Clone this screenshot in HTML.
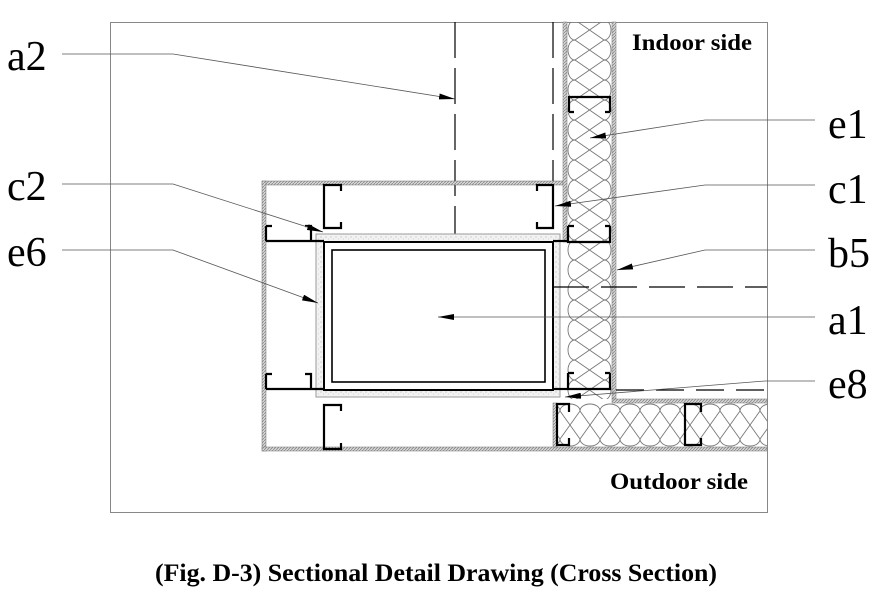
<!DOCTYPE html>
<html><head><meta charset="utf-8"><style>
html,body{margin:0;padding:0;background:#fff;}
svg{display:block;}
</style></head><body>
<svg width="878" height="611" viewBox="0 0 878 611" xmlns="http://www.w3.org/2000/svg" font-family="Liberation Serif, serif">
<defs>
<pattern id="hat" width="3" height="3" patternUnits="userSpaceOnUse"><rect width="3" height="3" fill="#d8d8d8"/><path d="M0,3 L3,0" stroke="#888" stroke-width="0.8"/></pattern>
<pattern id="dot" width="5" height="5" patternUnits="userSpaceOnUse"><rect width="5" height="5" fill="#f2f2f2"/><circle cx="1" cy="2" r="0.5" fill="#999"/><circle cx="3.5" cy="4" r="0.4" fill="#aaa"/></pattern>
<pattern id="insV" x="567" y="0" width="45" height="40" patternUnits="userSpaceOnUse"><path d="M8,0 L37,20 L8,40 M37,0 L8,20 L37,40 M8,0 A7,10 0 0 0 8,20 A7,10 0 0 0 8,40 M37,0 A7,10 0 0 1 37,20 A7,10 0 0 1 37,40" fill="none" stroke="#777" stroke-width="0.9"/></pattern>
<pattern id="insH" x="0" y="403" width="40" height="44" patternUnits="userSpaceOnUse"><path d="M0,8 L20,36 L40,8 M0,36 L20,8 L40,36 M0,8 A10,7 0 0 1 20,8 A10,7 0 0 1 40,8 M0,36 A10,7 0 0 0 20,36 A10,7 0 0 0 40,36" fill="none" stroke="#777" stroke-width="0.9"/></pattern>
<marker id="ar" viewBox="0 0 16 6" refX="16" refY="3" markerWidth="16" markerHeight="6" markerUnits="userSpaceOnUse" orient="auto"><path d="M0,0 L16,3 L0,6 z" fill="#000"/></marker>
</defs>

<rect x="110.5" y="22.5" width="657" height="490" fill="none" stroke="#888" stroke-width="1"/>

<line x1="455" y1="22" x2="455" y2="242" stroke="#000" stroke-width="1.2" stroke-dasharray="36,10"/>
<line x1="553" y1="22" x2="553" y2="184" stroke="#000" stroke-width="1.2" stroke-dasharray="36,10"/>

<rect x="262" y="181" width="301" height="4" fill="url(#hat)" stroke="#777" stroke-width="0.5"/>
<rect x="262" y="181" width="4" height="270" fill="url(#hat)" stroke="#777" stroke-width="0.5"/>
<rect x="262" y="447" width="505" height="4" fill="url(#hat)" stroke="#777" stroke-width="0.5"/>

<rect x="563" y="22" width="4" height="220" fill="url(#hat)" stroke="#777" stroke-width="0.5"/>
<rect x="567" y="22" width="45" height="377" fill="url(#insV)"/>
<rect x="612" y="22" width="4" height="377" fill="url(#hat)" stroke="#777" stroke-width="0.5"/>
<rect x="612" y="399" width="155" height="4" fill="url(#hat)" stroke="#777" stroke-width="0.5"/>
<rect x="557" y="403" width="210" height="44" fill="url(#insH)"/>
<rect x="553" y="403" width="4" height="44" fill="url(#hat)" stroke="#777" stroke-width="0.5"/>

<rect x="316" y="234" width="244" height="163" fill="url(#dot)" stroke="#999" stroke-width="1"/>
<rect x="324" y="242" width="229" height="148" fill="#fff" stroke="#000" stroke-width="2"/>
<rect x="332" y="250" width="213" height="132" fill="none" stroke="#000" stroke-width="1.6"/>

<g fill="none" stroke="#000" stroke-width="2.2">
<path d="M341,191 V185 H324 V228 H341 V222"/>
<path d="M266,241 H324 M266,226 H272 M266,226 V241 M305,226 H311 V241"/>
<path d="M266,389 H324 M266,374 H272 M266,374 V389 M305,374 H311 V389"/>
<path d="M341,411 V405 H324 V449 H341 V443"/>
<path d="M537,191 V185 H553 V228 H537 V222"/>
<path d="M569,112 V97 H610 V112 M569,112 H574 M610,112 H605"/>
<path d="M568,226 V242 H610 V226 M568,226 H574 M610,226 H605"/>
<path d="M553,241 H568"/>
<path d="M568,373 V389 H610 V373 M568,373 H574 M610,373 H605"/>
<path d="M553,389 H568"/>
<path d="M569,412 V404 H557 V445 H569 V438"/>
<path d="M701,412 V404 H685 V445 H701 V438"/>
</g>

<line x1="553" y1="287" x2="767" y2="287" stroke="#000" stroke-width="1.2" stroke-dasharray="36,12"/>
<line x1="616" y1="390" x2="767" y2="390" stroke="#000" stroke-width="1.2" stroke-dasharray="28,12"/>

<g fill="none" stroke="#555" stroke-width="0.8">
<path d="M62,54 H173 L455,99" marker-end="url(#ar)"/>
<path d="M62,184 H173 L323,232" marker-end="url(#ar)"/>
<path d="M62,250 H173 L318,303" marker-end="url(#ar)"/>
<path d="M815,120 H705 L590,138" marker-end="url(#ar)"/>
<path d="M815,185 H705 L555,206" marker-end="url(#ar)"/>
<path d="M815,250 H705 L617,270" marker-end="url(#ar)"/>
<path d="M815,317 H438" marker-end="url(#ar)"/>
<path d="M815,381 H765 L565,397" marker-end="url(#ar)"/>
</g>

<g font-size="42" fill="#000">
<text x="7" y="70">a2</text>
<text x="7" y="200">c2</text>
<text x="7" y="266">e6</text>
<text x="828" y="138">e1</text>
<text x="828" y="203">c1</text>
<text x="828" y="267">b5</text>
<text x="828" y="334">a1</text>
<text x="828" y="398">e8</text>
</g>
<text x="632" y="50" font-size="23" font-weight="bold" textLength="120" lengthAdjust="spacingAndGlyphs">Indoor side</text>
<text x="610" y="489" font-size="23" font-weight="bold" textLength="138" lengthAdjust="spacingAndGlyphs">Outdoor side</text>
<text x="155" y="581" font-size="25" font-weight="bold" textLength="562" lengthAdjust="spacingAndGlyphs">(Fig. D-3) Sectional Detail Drawing (Cross Section)</text>
</svg>
</body></html>
